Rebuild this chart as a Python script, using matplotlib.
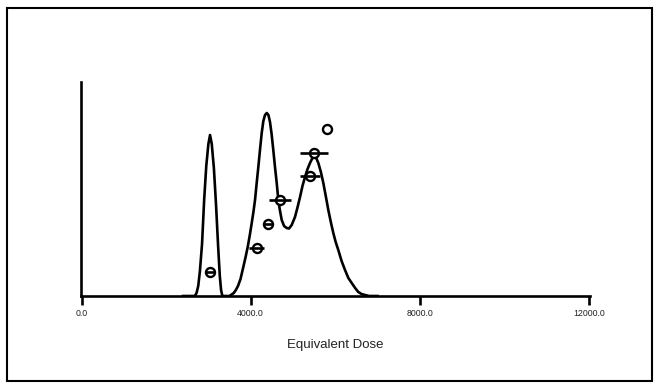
import matplotlib
matplotlib.use("Agg")
import matplotlib.pyplot as plt
from matplotlib.patches import Rectangle

plt.rcParams['font.family'] = ['Liberation Sans', 'DejaVu Sans']

# Individual equivalent dose estimates (points) and their errors
de_values = [3040, 4143, 4403, 4694, 5403, 5505, 5798]
de_errors = [100, 177, 100, 256, 236, 335, 0]
de_rank = [1, 2, 3, 4, 5, 6, 7]

# Density curve (relative height)
curve_dose = [2400, 2680, 2720, 2760, 2800, 2850, 2900, 2950, 3000, 3039,
              3080, 3130, 3180, 3230, 3270, 3300, 3330, 3400, 3500, 3600,
              3650, 3700, 3760, 3826, 3880, 3930, 3980, 4025, 4065, 4103,
              4140, 4181, 4220, 4261, 4300, 4339, 4379, 4420, 4457, 4495,
              4535, 4575, 4616, 4654, 4690, 4734, 4790, 4852, 4907, 4970,
              5048, 5110, 5167, 5225, 5285, 5345, 5403, 5455, 5505, 5555,
              5600, 5660, 5718, 5780, 5836, 5895, 5954, 6010, 6072, 6150,
              6231, 6310, 6389, 6470, 6545, 6620, 6704, 6800, 7000]
curve_density = [0, 0, 3, 10, 25, 52, 96, 130, 152, 161,
                 152, 128, 92, 50, 20, 6, 0, 0, 0, 3,
                 6, 10, 17, 29, 39, 49, 61, 73, 84, 96,
                 112, 129, 146, 163, 175, 181, 183, 181, 174, 162,
                 146, 129, 113, 96, 86, 76, 70, 68, 67.5, 71,
                 79, 89, 99, 110, 119, 127, 133, 137.5, 139, 137.5,
                 133, 124, 113, 99, 86, 74, 63, 54, 46, 35,
                 26, 18, 13, 8, 4, 2, 1, 0, 0]

xticks = [0, 4000, 8000, 12000]
xtick_labels = ["0.0", "4000.0", "8000.0", "12000.0"]

W, H = 659, 387
fig = plt.figure(figsize=(W / 100, H / 100), dpi=100)

# outer frame
fig.patches.append(Rectangle((6.5 / W, 1 - 381 / H), (652 - 6.5) / W, (381 - 7.5) / H,
                             transform=fig.transFigure, fill=False,
                             edgecolor='black', linewidth=1.5))

left, right, top, bottom = 80.5, 590, 82, 296
ax = fig.add_axes([left / W, 1 - bottom / H, (right - left) / W, (bottom - top) / H])
ax.set_xlim(-24, 12024)
ax.set_ylim(0, 214)
ax.plot(curve_dose, curve_density, color='black', lw=1.9, solid_joinstyle='round', zorder=2)

for s in ['top', 'right']:
    ax.spines[s].set_visible(False)
for s in ['left', 'bottom']:
    ax.spines[s].set_linewidth(1.9)
ax.set_yticks([])
ax.set_xticks(xticks)
ax.set_xticklabels(xtick_labels, fontsize=6.3, color='#222222')
ax.tick_params(axis='x', direction='out', length=6.5, width=1.9, pad=3)
ax.set_xlabel("Equivalent Dose", fontsize=9.5, color='#222222', labelpad=15)
ax.patch.set_alpha(0)

ax2 = ax.twinx()
ax2.set_position(ax.get_position())
ax2.set_ylim(0, 214 / 23.9)
ax2.axis('off')
ax2.plot(de_values, de_rank, linestyle='none', marker='o', markersize=6.5,
         markerfacecolor='white', markeredgecolor='black', markeredgewidth=1.7, zorder=3)
for x, e, y in zip(de_values, de_errors, de_rank):
    if e > 0:
        ax2.plot([x - e, x + e], [y, y], color='black', lw=1.9, solid_capstyle='butt', zorder=4)

fig.savefig("out.png", dpi=100)
